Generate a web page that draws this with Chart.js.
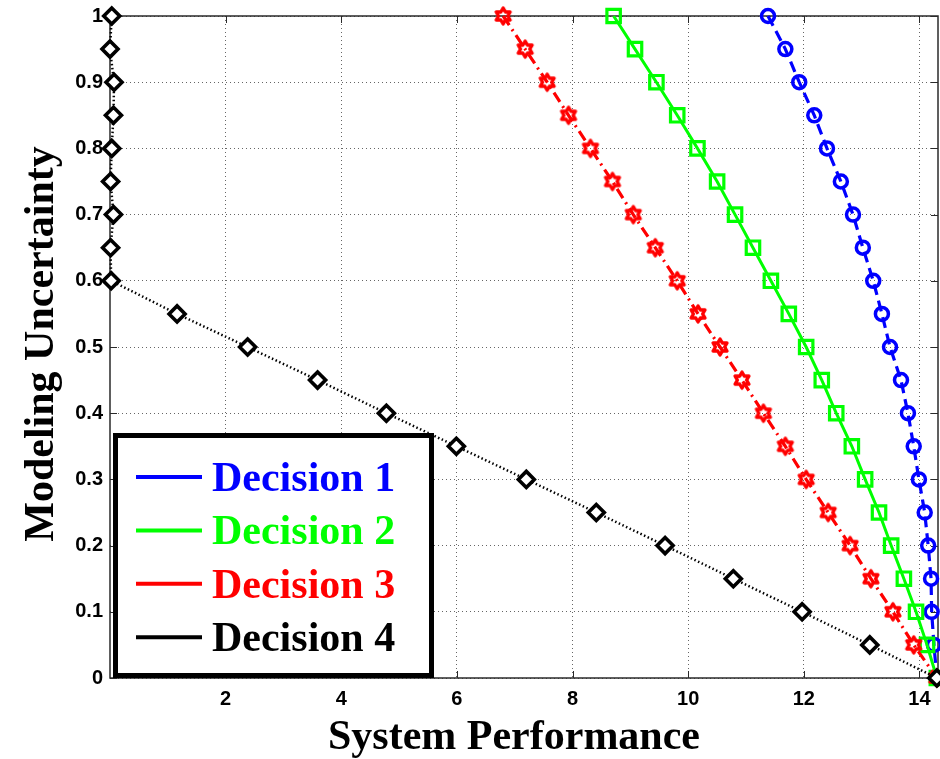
<!DOCTYPE html>
<html>
<head>
<meta charset="utf-8">
<title>System Performance vs Modeling Uncertainty</title>
<script src="https://cdn.jsdelivr.net/npm/chart.js@4.4.1/dist/chart.umd.min.js"></script>
<style>
  html, body { margin: 0; padding: 0; background: #fff; }
  #grafico { display: block; }
</style>
</head>
<body>
<canvas id="grafico" width="940" height="759"></canvas>
<script>
// Niveles de incertidumbre (eje Y), comunes a las 4 decisiones
const incertidumbre = [1, 0.95, 0.9, 0.85, 0.8, 0.75, 0.7, 0.65, 0.6, 0.55, 0.5,
                       0.45, 0.4, 0.35, 0.3, 0.25, 0.2, 0.15, 0.1, 0.05, 0];

// Desempeño del sistema para cada nivel
const decision1 = [11.38, 11.68, 11.92, 12.18, 12.40, 12.64, 12.85, 13.02, 13.20, 13.35, 13.49,
                   13.68, 13.80, 13.90, 13.99, 14.09, 14.15, 14.20, 14.21, 14.25, 14.30];
const decision2 = [8.71, 9.08, 9.45, 9.81, 10.16, 10.50, 10.81, 11.12, 11.43, 11.74, 12.04,
                   12.31, 12.56, 12.83, 13.06, 13.30, 13.51, 13.73, 13.94, 14.13, 14.30];
const decision3 = [6.80, 7.18, 7.56, 7.93, 8.31, 8.69, 9.05, 9.43, 9.81, 10.17, 10.55,
                   10.93, 11.30, 11.68, 12.04, 12.42, 12.80, 13.16, 13.54, 13.90, 14.30];
const decision4 = [0.03, 0.00, 0.07, 0.06, 0.03, 0.01, 0.06, 0.01, 0.02, 1.16, 2.38,
                   3.59, 4.78, 5.99, 7.20, 8.41, 9.60, 10.78, 11.97, 13.14, 14.30];

const nombres = ['Decision 1', 'Decision 2', 'Decision 3', 'Decision 4'];

const xTicks = [2, 4, 6, 8, 10, 12, 14];
const yTicks = [0, 0.1, 0.2, 0.3, 0.4, 0.5, 0.6, 0.7, 0.8, 0.9, 1];
const yTickLabels = ['0', '0.1', '0.2', '0.3', '0.4', '0.5', '0.6', '0.7', '0.8', '0.9', '1'];

const X_MAX = 14.32;
const fuenteTicks = { family: '"Liberation Sans", Arial, sans-serif', size: 20, weight: 'bold' };
const fuenteSerif = '"Liberation Serif", "Times New Roman", serif';

function puntos(serie) {
    return serie.map((x, i) => ({ x: x, y: incertidumbre[i] }));
}

// marcador hexagrama (estrella de 6 puntas) para la decisión 3
function hexagrama(color) {
    const c = document.createElement('canvas');
    c.width = 22; c.height = 22;
    const ctx = c.getContext('2d');
    const R = 8, r = R / Math.sqrt(3);
    ctx.beginPath();
    for (let k = 0; k < 12; k++) {
        const a = -Math.PI / 2 + k * Math.PI / 6;
        const rad = k % 2 === 0 ? R : r;
        const px = 11 + rad * Math.cos(a), py = 11 + rad * Math.sin(a);
        if (k === 0) ctx.moveTo(px, py); else ctx.lineTo(px, py);
    }
    ctx.closePath();
    ctx.lineWidth = 3.4;
    ctx.lineJoin = 'round';
    ctx.strokeStyle = color;
    ctx.stroke();
    return c;
}

// caja de ejes con marcas hacia adentro (estilo MATLAB)
const marcoEjes = {
    id: 'marcoEjes',
    beforeDatasetsDraw(chart) {
        const { ctx, chartArea: a, scales } = chart;
        ctx.save();
        ctx.strokeStyle = '#2a2a2a';
        ctx.lineWidth = 1.5;
        ctx.strokeRect(a.left, a.top, a.right - a.left, a.bottom - a.top);
        ctx.lineWidth = 1;
        ctx.beginPath();
        xTicks.forEach(v => {
            const px = Math.round(scales.x.getPixelForValue(v)) + 0.5;
            ctx.moveTo(px, a.bottom); ctx.lineTo(px, a.bottom - 7);
            ctx.moveTo(px, a.top); ctx.lineTo(px, a.top + 7);
        });
        yTicks.forEach(v => {
            const py = Math.round(scales.y.getPixelForValue(v)) + 0.5;
            ctx.moveTo(a.left, py); ctx.lineTo(a.left + 7, py);
            ctx.moveTo(a.right, py); ctx.lineTo(a.right - 7, py);
        });
        ctx.stroke();
        ctx.restore();
    }
};

// títulos de los ejes
const titulosEjes = {
    id: 'titulosEjes',
    afterDraw(chart) {
        const { ctx } = chart;
        ctx.save();
        ctx.fillStyle = '#000';
        ctx.font = 'bold 42px ' + fuenteSerif;
        ctx.textAlign = 'center';
        ctx.textBaseline = 'alphabetic';
        ctx.fillText('System Performance', 514, 749);
        ctx.translate(53, 344);
        ctx.rotate(-Math.PI / 2);
        ctx.fillText('Modeling Uncertainty', 0, 0);
        ctx.restore();
    }
};

// leyenda dentro del área, abajo a la izquierda
const leyendaCaja = {
    id: 'leyendaCaja',
    afterDraw(chart) {
        const { ctx } = chart;
        const box = { x: 115.5, y: 435.5, w: 316, h: 240 };
        ctx.save();
        ctx.fillStyle = '#fff';
        ctx.fillRect(box.x, box.y, box.w, box.h);
        ctx.lineWidth = 5;
        ctx.strokeStyle = '#000';
        ctx.strokeRect(box.x, box.y, box.w, box.h);
        ctx.font = 'bold 42px ' + fuenteSerif;
        ctx.textAlign = 'left';
        ctx.textBaseline = 'alphabetic';
        chart.data.datasets.forEach((ds, i) => {
            const yy = 477 + i * 53.4;
            ctx.strokeStyle = ds.borderColor;
            ctx.lineWidth = 4;
            ctx.beginPath();
            ctx.moveTo(136, yy); ctx.lineTo(202, yy);
            ctx.stroke();
            ctx.fillStyle = ds.borderColor;
            ctx.fillText(ds.label, 212, yy + 14);
        });
        ctx.restore();
    }
};

const estrella = hexagrama('#ff0000');

const ctx = document.getElementById('grafico').getContext('2d');
const chart = new Chart(ctx, {
    type: 'line',
    data: {
        datasets: [
            { label: nombres[0], data: puntos(decision1), borderColor: '#0000ff', borderWidth: 3.2,
              borderDash: [11, 6], pointStyle: 'circle', pointRadius: 6.5, pointBorderWidth: 3.5,
              pointBackgroundColor: 'rgba(0,0,0,0)', pointBorderColor: '#0000ff', order: 4 },
            { label: nombres[1], data: puntos(decision2), borderColor: '#00ff00', borderWidth: 3,
              pointStyle: 'rect', pointRadius: 9.5, pointBorderWidth: 3.2,
              pointBackgroundColor: 'rgba(0,0,0,0)', pointBorderColor: '#00ff00', order: 3 },
            { label: nombres[2], data: puntos(decision3), borderColor: '#ff0000', borderWidth: 3.2,
              borderDash: [11, 5, 2, 5], pointStyle: estrella, pointRadius: 9,
              pointBorderColor: '#ff0000', order: 2 },
            { label: nombres[3], data: puntos(decision4), borderColor: '#000000', borderWidth: 2.5,
              borderDash: [1.5, 2.5], pointStyle: 'rectRot', pointRadius: 8, pointBorderWidth: 3.6,
              pointBackgroundColor: '#ffffff', pointBorderColor: '#000000', order: 1 }
        ]
    },
    options: {
        responsive: false,
        devicePixelRatio: 1,
        animation: false,
        clip: false,
        layout: { autoPadding: false, padding: { left: 0, right: 2, top: 16, bottom: 0 } },
        plugins: {
            legend: { display: false },
            tooltip: { enabled: false }
        },
        elements: { line: { tension: 0 } },
        scales: {
            x: {
                type: 'linear', min: 0, max: X_MAX,
                afterBuildTicks: s => { s.ticks = xTicks.map(v => ({ value: v })); },
                afterFit: s => { s.height = 81; s.paddingLeft = 0; s.paddingRight = 0; },
                ticks: { font: fuenteTicks, color: '#000', padding: 9, maxRotation: 0, autoSkip: false },
                grid: { color: 'rgba(0,0,0,0.6)', lineWidth: 1, drawTicks: false },
                border: { display: false, dash: [1, 3] }
            },
            y: {
                type: 'linear', min: 0, max: 1,
                afterBuildTicks: s => { s.ticks = yTicks.map(v => ({ value: v })); },
                afterFit: s => { s.width = 110; s.paddingTop = 0; s.paddingBottom = 0; },
                ticks: { font: fuenteTicks, color: '#000', padding: 7, autoSkip: false,
                         callback: (v, i) => yTickLabels[i] },
                grid: { color: 'rgba(0,0,0,0.6)', lineWidth: 1, drawTicks: false },
                border: { display: false, dash: [1, 3] }
            }
        }
    },
    plugins: [marcoEjes, titulosEjes, leyendaCaja]
});
</script>
</body>
</html>
